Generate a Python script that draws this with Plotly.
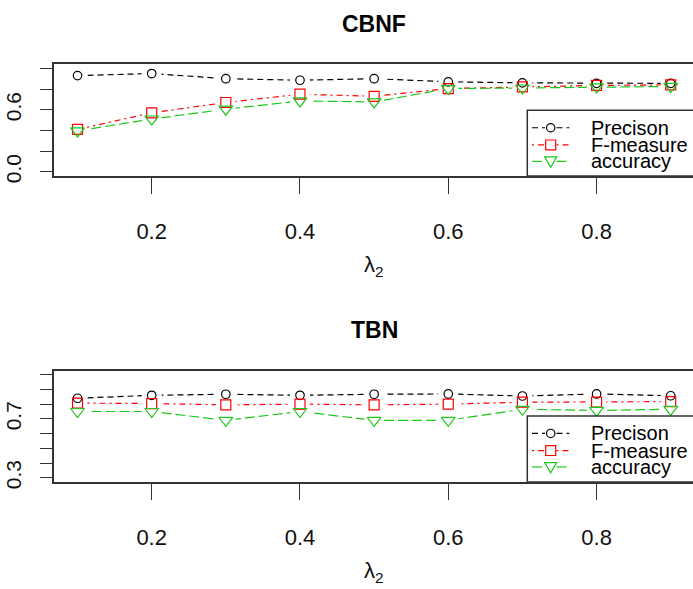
import plotly.graph_objects as go

# lambda_2 grid
lam = [0.1, 0.2, 0.3, 0.4, 0.5, 0.6, 0.7, 0.8, 0.9]

# CBNF results
cbnf_precision = [0.93, 0.95, 0.90, 0.885, 0.90, 0.87, 0.86, 0.855, 0.855]
cbnf_fmeasure = [0.41, 0.57, 0.67, 0.75, 0.73, 0.805, 0.82, 0.835, 0.84]
cbnf_accuracy = [0.395, 0.51, 0.605, 0.685, 0.675, 0.805, 0.81, 0.82, 0.825]

# TBN results
tbn_precision = [0.84, 0.86, 0.867, 0.86, 0.867, 0.869, 0.855, 0.869, 0.857]
tbn_fmeasure = [0.807, 0.804, 0.795, 0.80, 0.795, 0.80, 0.813, 0.813, 0.817]
tbn_accuracy = [0.75, 0.75, 0.69, 0.75, 0.69, 0.69, 0.765, 0.757, 0.765]

series_names = ["Precison", "F-measure", "accuracy"]
x_ticks = [0.2, 0.4, 0.6, 0.8]
cbnf_ylabels = [0.0, 0.6]
cbnf_yminor = [0.0, 0.2, 0.4, 0.6, 0.8, 1.0]
tbn_ylabels = [0.3, 0.7]
tbn_yminor = [0.3, 0.4, 0.5, 0.6, 0.7, 0.8, 0.9, 1.0]

W, H = 693, 589
BLACK, RED, GREEN = "#000000", "#FF0000", "#1DC81D"
AXC = "#333333"
colors = [BLACK, RED, GREEN]
dashes = ["6px,4px", "2px,4px,6px,4px", "10px,4px"]
symbols = ["circle-open", "square-open", "triangle-down-open"]
msizes = [8.5, 10, 12]
LW = 1.2
FONT = "Liberation Sans, Arial, sans-serif"


def px(x):
    return x / W


def py(y):
    return 1 - y / H


fig = go.Figure()

panels = [
    ("x", "y", [cbnf_precision, cbnf_fmeasure, cbnf_accuracy]),
    ("x2", "y2", [tbn_precision, tbn_fmeasure, tbn_accuracy]),
]

for xa, ya, data in panels:
    # connecting lines
    for vals, c, d in zip(data, colors, dashes):
        fig.add_trace(go.Scatter(x=lam, y=vals, mode="lines", xaxis=xa, yaxis=ya,
                                 line=dict(color=c, width=LW, dash=d),
                                 showlegend=False, hoverinfo="skip"))
    # white gaps around points (type "b" look)
    for vals in data:
        fig.add_trace(go.Scatter(x=lam, y=vals, mode="markers", xaxis=xa, yaxis=ya,
                                 marker=dict(symbol="circle", size=20, color="white",
                                             line=dict(width=0)),
                                 showlegend=False, hoverinfo="skip"))
    # open point symbols
    for vals, c, s, ms, name in zip(data, colors, symbols, msizes, series_names):
        fig.add_trace(go.Scatter(x=lam, y=vals, mode="markers", xaxis=xa, yaxis=ya,
                                 name=name,
                                 marker=dict(symbol=s, size=ms, color=c,
                                             line=dict(color=c, width=LW)),
                                 showlegend=False))

x_dom = [53.8 / W, 1.0]
x_range = [0.068, 0.068 + (W - 53.8) / 741.5]

common_x = dict(domain=x_dom, range=x_range, tickvals=x_ticks,
                ticktext=[f"{v:.1f}" for v in x_ticks],
                showline=True, linecolor=AXC, linewidth=1.5, mirror=True,
                ticks="outside", ticklen=16, tickwidth=1.3, tickcolor=AXC,
                showgrid=False, zeroline=False,
                tickfont=dict(family=FONT, size=22, color="#111"),
                ticklabelstandoff=19)
common_y = dict(showline=True, linecolor=AXC, linewidth=1.5, mirror=False,
                ticks="outside", ticklen=12, tickwidth=1.3, tickcolor=AXC,
                showgrid=False, zeroline=False, tickangle=-90,
                tickfont=dict(family=FONT, size=21, color="#111"),
                ticklabelstandoff=11)


def minor_ticks(vals):
    return dict(tickvals=vals, ticks="outside", ticklen=12, tickwidth=1.3,
                tickcolor=AXC, showgrid=False)


fig.update_layout(
    width=W, height=H,
    margin=dict(l=0, r=0, t=0, b=0),
    paper_bgcolor="white", plot_bgcolor="white",
    showlegend=False,
    xaxis=dict(anchor="y", **common_x),
    yaxis=dict(anchor="x", domain=[py(178), py(65)], range=[-0.04, 1.04],
               tickvals=cbnf_ylabels, ticktext=[f"{v:.1f}" for v in cbnf_ylabels],
               minor=minor_ticks(cbnf_yminor), **common_y),
    xaxis2=dict(anchor="y2", **common_x),
    yaxis2=dict(anchor="x2", domain=[py(487.7), py(375)], range=[0.272, 1.028],
                tickvals=tbn_ylabels, ticktext=[f"{v:.1f}" for v in tbn_ylabels],
                minor=minor_ticks(tbn_yminor), **common_y),
)

shapes = []
annotations = []
plot_cx = (53.8 + 694.7) / 2

for title, box_top, box_bottom, leg_top in [("CBNF", 65, 178, 111.7),
                                            ("TBN", 375, 487.7, 421)]:
    # panel title and x-axis label
    annotations.append(dict(text=f"<b>{title}</b>", x=px(plot_cx), y=py(box_top - 41),
                            xref="paper", yref="paper", showarrow=False,
                            xanchor="center", yanchor="middle",
                            font=dict(family=FONT, size=23, color="#000")))
    annotations.append(dict(text="λ<sub>2</sub>", x=px(plot_cx), y=py(box_bottom + 91),
                            xref="paper", yref="paper", showarrow=False,
                            xanchor="center", yanchor="middle",
                            font=dict(family=FONT, size=22, color="#111")))
    # legend frame
    shapes.append(dict(type="rect", xref="paper", yref="paper",
                       x0=px(527.3), x1=px(W + 10), y0=py(box_bottom), y1=py(leg_top),
                       line=dict(color=AXC, width=1.5), fillcolor="white", layer="above"))
    rows = [leg_top + 17.6, leg_top + 35, leg_top + 51.6]
    for ry, c, d, name, k in zip(rows, colors, dashes, series_names, range(3)):
        for a, b in [(532, 545), (556.5, 569.3)]:
            shapes.append(dict(type="line", xref="paper", yref="paper",
                               x0=px(a), x1=px(b), y0=py(ry), y1=py(ry),
                               line=dict(color=c, width=LW, dash=d), layer="above"))
        mx = 550.7
        if k == 0:
            shapes.append(dict(type="circle", xref="paper", yref="paper",
                               x0=px(mx - 4.2), x1=px(mx + 4.2),
                               y0=py(ry + 4.2), y1=py(ry - 4.2),
                               line=dict(color=c, width=LW), layer="above"))
        elif k == 1:
            shapes.append(dict(type="rect", xref="paper", yref="paper",
                               x0=px(mx - 5), x1=px(mx + 5),
                               y0=py(ry + 5), y1=py(ry - 5),
                               line=dict(color=c, width=LW), layer="above"))
        else:
            path = (f"M {px(mx - 6)},{py(ry - 4.5)} L {px(mx + 6)},{py(ry - 4.5)} "
                    f"L {px(mx)},{py(ry + 6)} Z")
            shapes.append(dict(type="path", xref="paper", yref="paper", path=path,
                               line=dict(color=c, width=LW), layer="above"))
        annotations.append(dict(text=name, x=px(589), y=py(ry), xref="paper", yref="paper",
                                showarrow=False, xanchor="left", yanchor="middle",
                                font=dict(family=FONT, size=20, color="#000")))

fig.update_layout(shapes=shapes, annotations=annotations)
fig.write_html("out.html")
